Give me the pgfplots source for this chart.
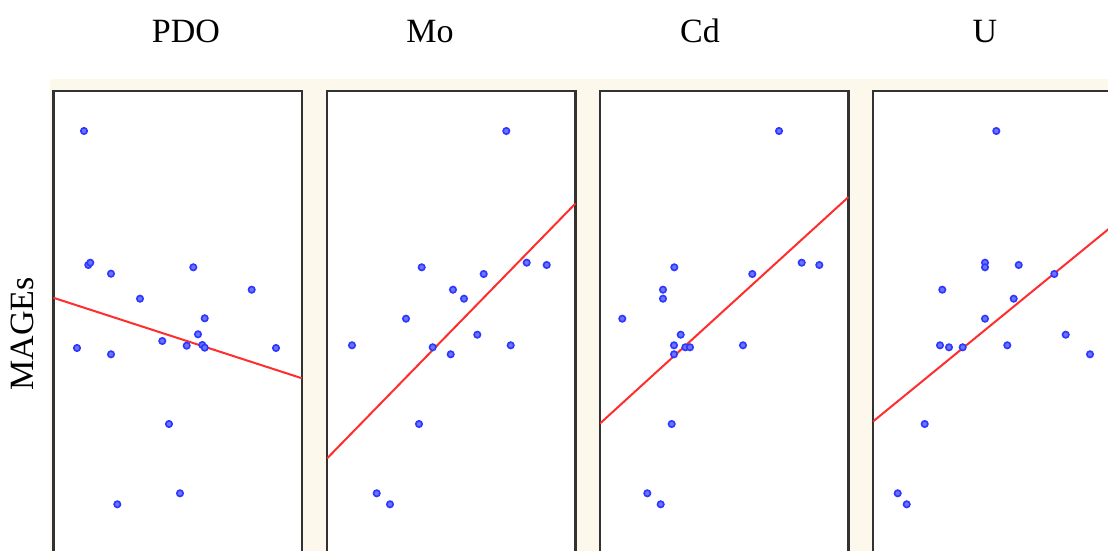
\documentclass[border=0pt]{standalone}
\usepackage{pgfplots}
\pgfplotsset{compat=1.18}
\usepackage{fontspec}
\setmainfont{Liberation Serif}

\definecolor{panelbg}{RGB}{253,248,236}
\definecolor{ptblue}{RGB}{45,55,255}
\definecolor{fitred}{RGB}{255,45,45}
\definecolor{framegray}{RGB}{50,50,50}

\pgfplotsset{
  panel/.style={
    x=0.5pt, y=0.5pt,
    xmin=0, xmax=248.5, ymin=-10, ymax=460.3,
    ticks=none,
    axis background/.style={fill=white},
    axis line style={draw=framegray, line width=1.1pt},
    anchor=north west,
  },
  pts/.style={only marks, mark=*, mark size=1.6pt,
    mark options={draw=ptblue, fill=ptblue!70!white, line width=0.8pt}},
  fit/.style={no marks, fitred, line width=1pt},
}

\begin{document}
\begin{tikzpicture}
\useasboundingbox (0,0) rectangle (554pt,275.5pt);
\clip (0,0) rectangle (554pt,275.5pt);
\fill[white] (0,0) rectangle (554pt,275.5pt);
\fill[panelbg] (25pt,0) rectangle (554pt,236pt);

\fontsize{17pt}{20pt}\selectfont
\node[anchor=base] at (93pt,254.35pt) {PDO};
\node[anchor=base] at (215pt,254.35pt) {Mo};
\node[anchor=base] at (350pt,254.35pt) {Cd};
\node[anchor=base] at (492.5pt,254.35pt) {U};
\node[anchor=base, rotate=90] at (16.6pt,108.5pt) {MAGEs};

% PDO
\begin{axis}[panel, at={(26.75pt,230.15pt)}]
\addplot[pts] coordinates {
 (30.5,420) (34.8,286) (36.8,288.3) (57.5,277.3) (139.8,283.7)
 (86.5,252.3) (198.2,261.3) (151.2,232.7) (23.5,203) (57.5,196.7)
 (108.8,210) (133.2,205.3) (144.5,216.7) (148.8,206) (151.2,203.3)
 (222.5,203) (115.5,127) (126.5,57.7) (63.8,46.7)
};
\addplot[fit] coordinates {(0,253.2) (248.5,172.7)};
\end{axis}

% Mo
\begin{axis}[panel, at={(163.5pt,230.15pt)}]
\addplot[pts] coordinates {
 (179.3,420) (94.7,283.7) (156.7,277) (126,261.3) (137,252.3)
 (199.7,288.3) (219.7,286) (79,232.3) (25,205.7) (105.7,203.7)
 (123.7,196.7) (150.3,216.3) (183.7,205.7) (92,127) (49.7,57.7)
 (63,46.7)
};
\addplot[fit] coordinates {(0,92.5) (248.5,347.5)};
\end{axis}

% Cd
\begin{axis}[panel, at={(300pt,230.15pt)}]
\addplot[pts] coordinates {
 (179,420) (74.3,283.7) (152.3,277) (63,261.3) (63,252.3)
 (201.7,288.3) (219.3,286) (22.3,232.3) (80.7,216.3) (74,205.7)
 (85.3,203.7) (90,203.7) (74,196.7) (143,205.7) (71.7,127)
 (47.3,57.7) (60.7,46.7)
};
\addplot[fit] coordinates {(0,127.5) (248.5,354)};
\end{axis}

% U
\begin{axis}[panel, at={(436.5pt,230.15pt)}]
\addplot[pts] coordinates {
 (123.3,420) (112,288.3) (112,283.7) (145.7,286) (181.3,277)
 (69.3,261.3) (140.7,252.3) (112,232.3) (192.7,216.3) (67,205.7)
 (76,203.7) (89.7,203.7) (134.3,205.7) (217,196.7) (51.7,127)
 (24.7,57.7) (33.7,46.7)
};
\addplot[fit] coordinates {(0,129.5) (248.5,332.5)};
\end{axis}
\end{tikzpicture}
\end{document}
